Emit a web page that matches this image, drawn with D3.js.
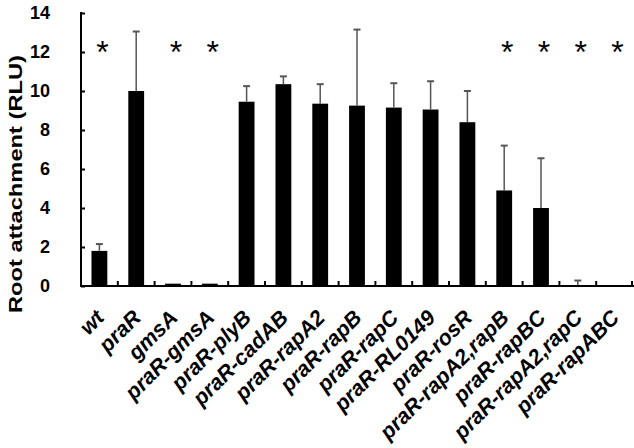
<!DOCTYPE html>
<html><head><meta charset="utf-8">
<script src="https://cdn.jsdelivr.net/npm/d3@7"></script>
<style>body{margin:0;background:#fff}svg{display:block}</style>
</head><body>
<script>
const categories = ["wt","praR","gmsA","praR-gmsA","praR-plyB","praR-cadAB","praR-rapA2","praR-rapB","praR-rapC","praR-RL0149","praR-rosR","praR-rapA2,rapB","praR-rapBC","praR-rapA2,rapC","praR-rapABC"];
const means = [1.8, 10.0, 0.12, 0.12, 9.45, 10.35, 9.35, 9.25, 9.15, 9.05, 8.4, 4.9, 4.0, 0.03, 0.0];
const errors = [0.35, 3.05, 0, 0, 0.8, 0.4, 1.0, 3.9, 1.25, 1.45, 1.6, 2.3, 2.55, 0.25, 0];
const significant = [1,0,1,1,0,0,0,0,0,0,0,1,1,1,1];
const yTicks = [0,2,4,6,8,10,12,14];
const yTitle = "Root attachment (RLU)";

const W = 634, H = 448;
const svg = d3.select("body").append("svg").attr("width", W).attr("height", H);
const font = "'Liberation Sans', Arial, sans-serif";

const x = d3.scaleBand().domain(categories).range([81, 633]).padding(0);
const y = d3.scaleLinear().domain([0, 14]).range([286, 13]);
const bw = x.bandwidth() * 0.43;

// bars
svg.selectAll("rect.bar").data(categories).join("rect")
  .attr("x", (d) => x(d) + x.bandwidth()/2 - bw/2)
  .attr("y", (d,i) => y(means[i]))
  .attr("width", bw)
  .attr("height", (d,i) => y(0) - y(means[i]))
  .attr("fill", "#000");

// error bars
const eg = svg.append("g").attr("stroke", "#555").attr("stroke-width", 1.5);
categories.forEach((c,i) => {
  if (errors[i] <= 0) return;
  const cx = x(c) + x.bandwidth()/2;
  eg.append("line").attr("x1", cx).attr("x2", cx).attr("y1", y(means[i])).attr("y2", y(means[i]+errors[i]));
  eg.append("line").attr("x1", cx-3.5).attr("x2", cx+3.5).attr("y1", y(means[i]+errors[i])).attr("y2", y(means[i]+errors[i])).attr("stroke-width", 2);
});

// asterisks
svg.selectAll("text.star").data(categories.filter((c,i)=>significant[i])).join("text")
  .attr("x", d => x(d) + x.bandwidth()/2 + 3)
  .attr("y", 63)
  .attr("text-anchor", "middle")
  .attr("font-family", font).attr("font-size", 32)
  .text("*");

// y axis
const yAxis = d3.axisLeft(y).tickValues(yTicks).tickSize(-4).tickPadding(31);
const yg = svg.append("g").attr("transform", "translate(81,0)").call(yAxis);
yg.select(".domain").remove();
yg.selectAll(".tick line").attr("stroke", "#000").attr("stroke-width", 2);
yg.selectAll(".tick text").attr("font-family", font).attr("font-size", 18).attr("font-weight", "bold").attr("fill", "#000");
svg.append("line").attr("x1", 81).attr("x2", 81).attr("y1", y(14)-1).attr("y2", y(0)+1).attr("stroke", "#000").attr("stroke-width", 2);

// x axis
svg.append("line").attr("x1", 80).attr("x2", 634).attr("y1", y(0)).attr("y2", y(0)).attr("stroke", "#000").attr("stroke-width", 2);
const bounds = categories.slice(1).map(c => x(c)).concat([x.range()[1] - 1]);
svg.selectAll("line.xt").data(bounds).join("line")
  .attr("x1", d => d).attr("x2", d => d).attr("y1", y(0)).attr("y2", y(0)-5)
  .attr("stroke", "#000").attr("stroke-width", 2);

// x labels
svg.selectAll("text.xl").data(categories).join("text")
  .attr("transform", d => `translate(${x(d) + x.bandwidth()/2 + 6},${319}) rotate(-45)`)
  .attr("text-anchor", "end")
  .attr("font-family", font).attr("font-size", 21.5).attr("font-weight", "bold").attr("font-style", "italic")
  .text(d => d);

// y title
svg.append("text")
  .attr("transform", `translate(22,${184}) rotate(-90)`)
  .attr("text-anchor", "middle")
  .attr("font-family", font).attr("font-size", 19).attr("font-weight", "bold")
  .attr("textLength", 258).attr("lengthAdjust", "spacingAndGlyphs")
  .text(yTitle);
</script>
</body></html>
